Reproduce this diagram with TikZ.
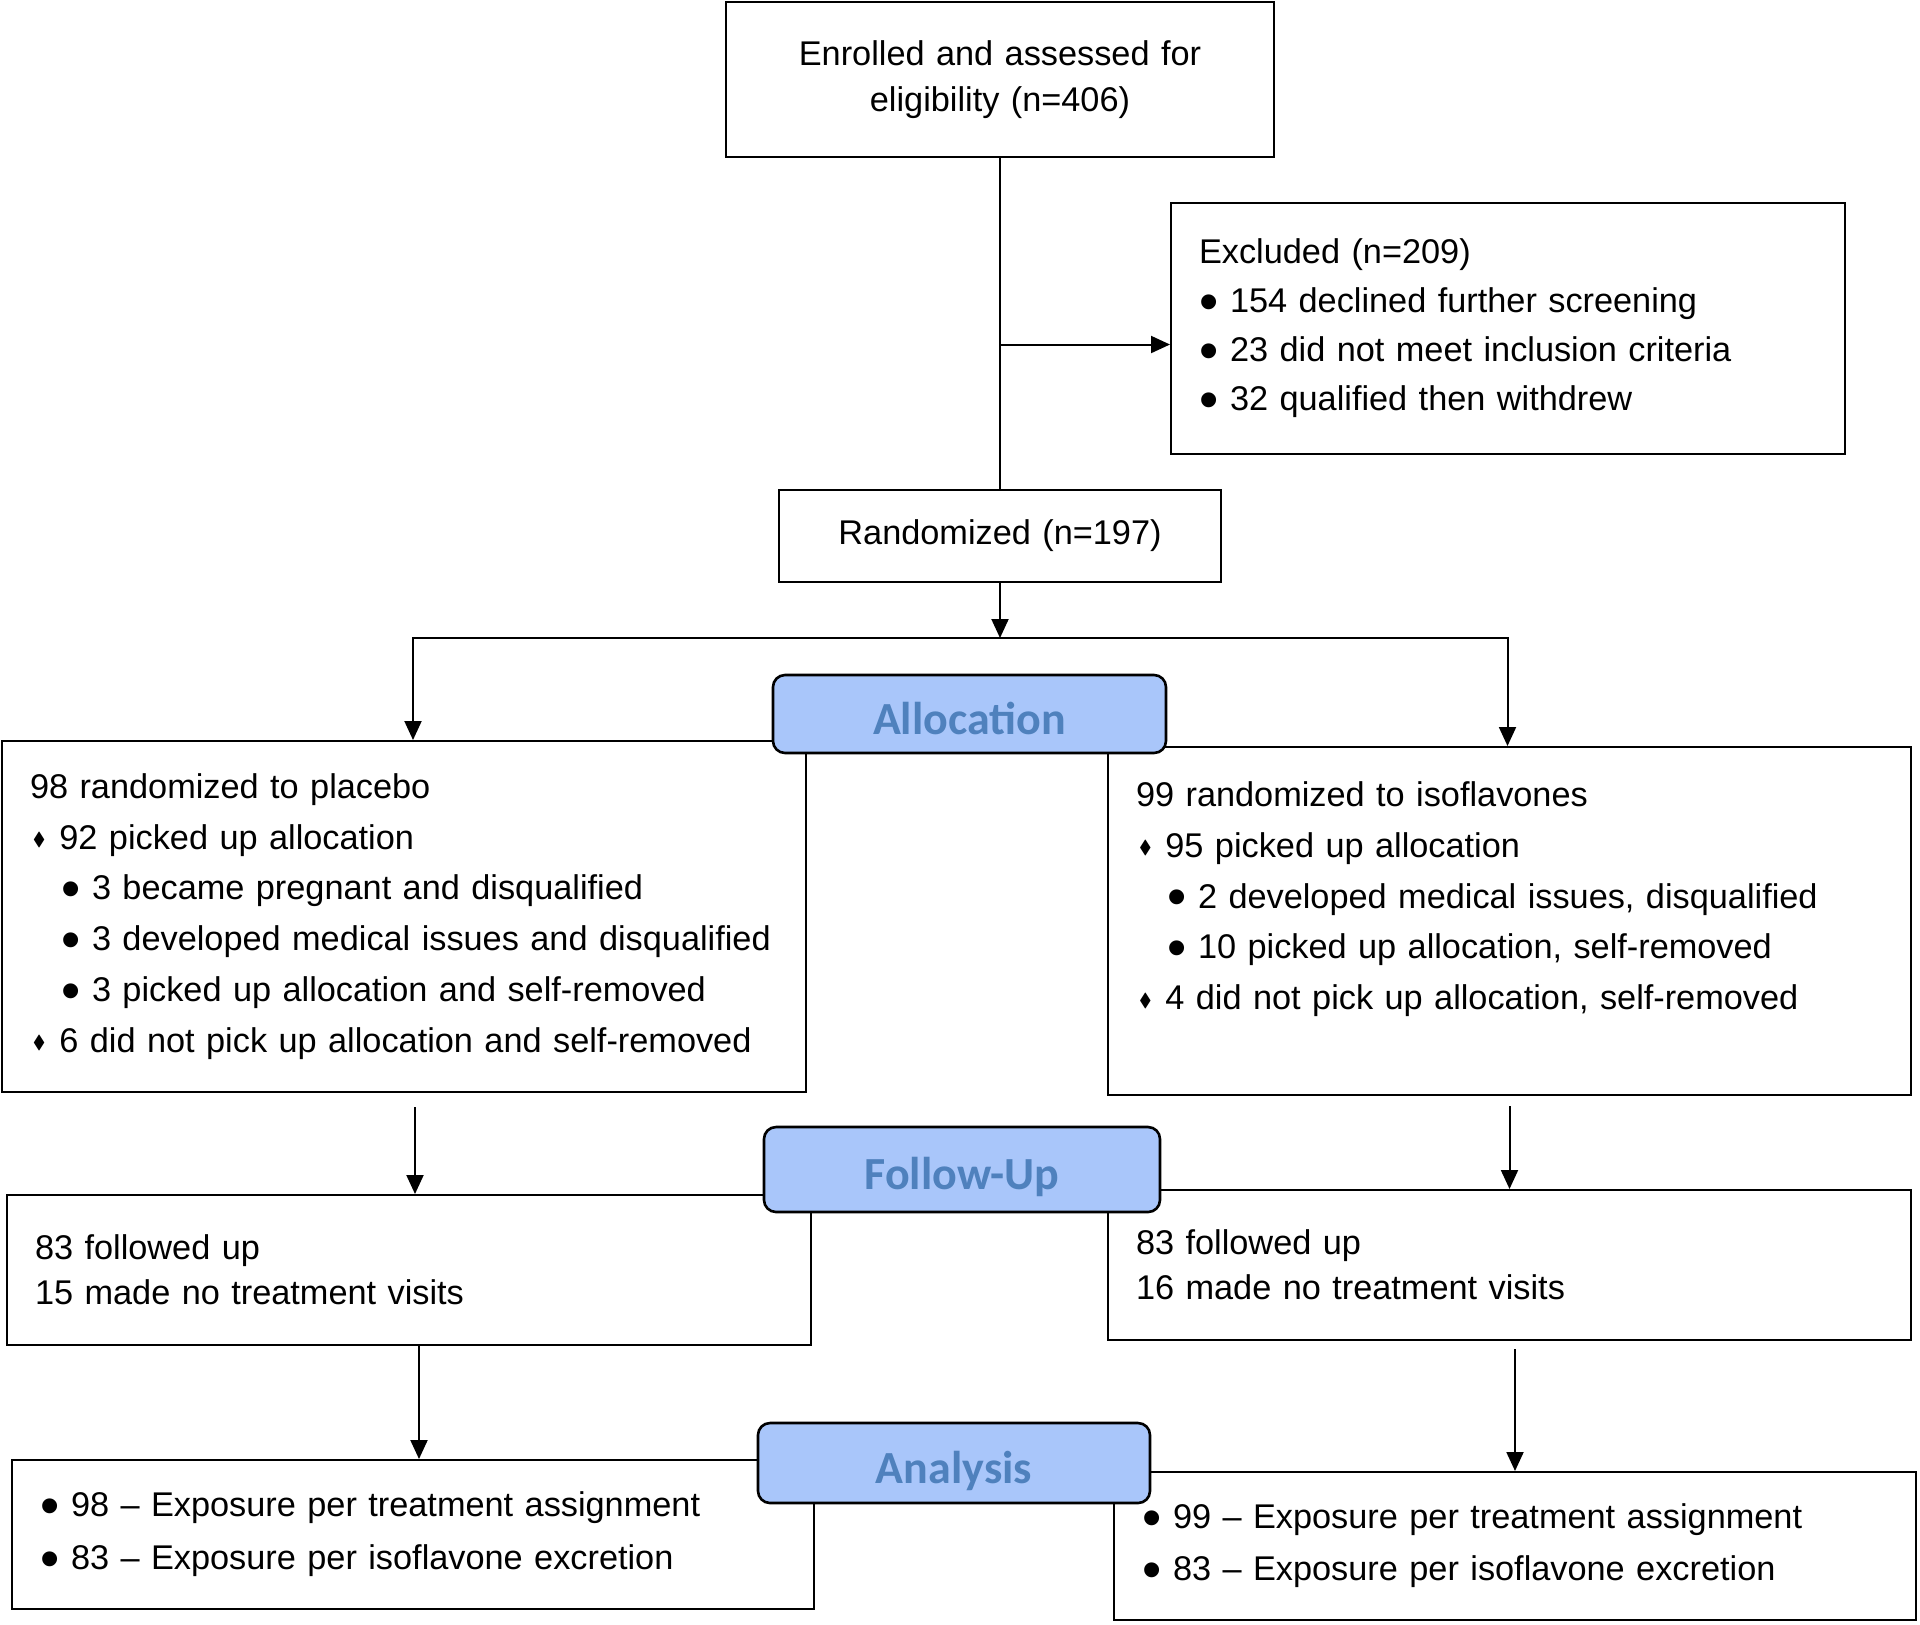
\documentclass[tikz,border=0pt]{standalone}
\usepackage{fontspec}
\usepackage{amssymb}
\setmainfont{Liberation Sans}
\newfontfamily\stagefont{Carlito}
\usetikzlibrary{arrows.meta}

\definecolor{stagefill}{HTML}{A9C6FA}
\definecolor{stagetext}{HTML}{4F81BD}

\newcommand{\bigdot}{\raisebox{-0.23em}{\scalebox{1.6}{\textbullet}}}
\newcommand{\dia}{\makebox[14.7pt][l]{\hspace{1.5pt}\raisebox{0.2ex}{\scalebox{0.55}{$\blacklozenge$}}}}
\newcommand{\bul}{\makebox[15.5pt][l]{\bigdot}}
\newcommand{\subbul}{\hspace*{15.5pt}\makebox[15.5pt][l]{\bigdot}}

\tikzset{
  box/.style={draw, line width=1pt, rectangle, align=left, inner xsep=14pt,
    inner ysep=0pt, font=\fontsize{17.15}{25.4}\selectfont},
  stage/.style={draw, line width=1.3pt, rounded corners=6pt, fill=stagefill,
    text=stagetext, inner sep=0pt, text height=20pt, text depth=0pt,
    font=\stagefont\bfseries\fontsize{23}{27}\selectfont},
  arr/.style={-{Triangle[length=9.5pt,width=8.5pt]}, line width=1pt}
}

\begin{document}
\begin{tikzpicture}[x=0.5pt, y=-0.5pt]
      \useasboundingbox (0,0) rectangle (1920,1624);
      % boxes
      \node[box, align=center, text width=246pt, minimum height=77.5pt,
        font=\fontsize{17.15}{23.2}\selectfont] (enrol) at (1000,79.5)
        {Enrolled and assessed for\\eligibility (n=406)};
      \node[box, text width=309pt, minimum height=125.5pt,
        font=\fontsize{17.15}{24.5}\selectfont] (excl) at (1508,328.5)
        {Excluded (n=209)\\
         \bul 154 declined further screening\\
         \bul 23 did not meet inclusion criteria\\
         \bul 32 qualified then withdrew};
      \node[box, align=center, text width=193pt, minimum height=46pt] (rand) at (1000,536)
        {Randomized (n=197)};
      \coordinate (split) at (1000,638);
      \node[box, text width=374pt, minimum height=175.5pt] (alloc1) at (404,916.5)
        {98 randomized to placebo\\
         \dia 92 picked up allocation\\
         \subbul 3 became pregnant and disqualified\\
         \subbul 3 developed medical issues and disqualified\\
         \subbul 3 picked up allocation and self-removed\\
         \dia 6 did not pick up allocation and self-removed};
      \node[box, text width=373.5pt, minimum height=174pt] (alloc2) at (1509.5,921)
        {99 randomized to isoflavones\\
         \dia 95 picked up allocation\\
         \subbul 2 developed medical issues, disqualified\\
         \subbul 10 picked up allocation, self-removed\\
         \dia 4 did not pick up allocation, self-removed\\ ~};
      \node[box, text width=374pt, minimum height=75pt,
        font=\fontsize{17.15}{22.7}\selectfont] (fu1) at (409,1270)
        {83 followed up\\15 made no treatment visits};
      \node[box, text width=373.5pt, minimum height=75pt,
        font=\fontsize{17.15}{22.7}\selectfont] (fu2) at (1509.5,1265)
        {83 followed up\\16 made no treatment visits};
      \node[box, text width=373pt, minimum height=74.5pt,
        font=\fontsize{17.15}{26.3}\selectfont] (an1) at (413,1534.5)
        {\bul 98 – Exposure per treatment assignment\\
         \bul 83 – Exposure per isoflavone excretion};
      \node[box, text width=373pt, minimum height=74pt,
        font=\fontsize{17.15}{26.3}\selectfont] (an2) at (1515,1546)
        {\bul 99 – Exposure per treatment assignment\\
         \bul 83 – Exposure per isoflavone excretion};
      % connectors
      \coordinate (exclin) at ([yshift=-8pt]excl.west);
      \draw[line width=1pt] (enrol.south) -- (rand.north);
      \begin{scope}[arr]
        \draw (enrol.south |- exclin) -- (exclin);
        \draw (rand.south) -- (split);
        \draw (split) -| ([xshift=4.5pt]alloc1.north);
        \draw (split) -| ([xshift=-1pt]alloc2.north);
        \draw[shorten <=7pt] ([xshift=3pt]fu1.north |- alloc1.south) -- ([xshift=3pt]fu1.north);
        \draw[shorten <=5pt] (fu2.north |- alloc2.south) -- (fu2.north);
        \draw ([xshift=3pt]an1.north |- fu1.south) -- ([xshift=3pt]an1.north);
        \draw[shorten <=4pt] (an2.north |- fu2.south) -- (an2.north);
      \end{scope}
      % stage labels
      \node[stage, minimum width=196.5pt, minimum height=39pt] (stalloc) at (969.5,714) {Allocation};
      \node[stage, minimum width=198pt, minimum height=42.5pt] (stfu) at (962,1169.5) {Follow-Up};
      \node[stage, minimum width=196pt, minimum height=40pt] (stan) at (954,1463) {Analysis};
    \end{tikzpicture}
\end{document}
